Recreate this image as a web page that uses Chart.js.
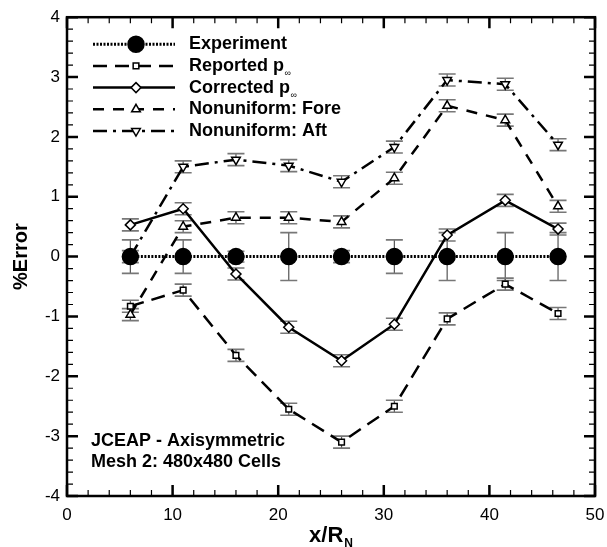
<!DOCTYPE html>
<html>
<head>
<meta charset="utf-8">
<script src="https://cdn.jsdelivr.net/npm/chart.js@4.4.1/dist/chart.umd.min.js"></script>
<style>html,body{margin:0;padding:0;background:#fff}</style>
</head>
<body>
<canvas id="c" width="607" height="547"></canvas>
<script>
const X_POS = [6, 11, 16, 21, 26, 31, 36, 41.5, 46.5];
const EXPERIMENT = [0, 0, 0, 0, 0, 0, 0, 0, 0];
const EXPERIMENT_ERR = [0.28, 0.28, 0.09, 0.4, 0.1, 0.28, 0.4, 0.4, 0.4];
const REPORTED = [-0.83, -0.56, -1.65, -2.55, -3.1, -2.5, -1.04, -0.46, -0.95];
const CORRECTED = [0.53, 0.8, -0.29, -1.18, -1.74, -1.13, 0.36, 0.94, 0.46];
const FORE = [-0.97, 0.5, 0.65, 0.65, 0.58, 1.31, 2.52, 2.28, 0.84];
const AFT = [0.0, 1.5, 1.62, 1.52, 1.25, 1.83, 2.95, 2.88, 1.87];
const MODEL_ERR = [0.1, 0.1, 0.1, 0.1, 0.1, 0.1, 0.1, 0.1, 0.1];
const LEGEND_LABELS = ['Experiment', 'Reported p', 'Corrected p', 'Nonuniform: Fore', 'Nonuniform: Aft'];
const LEGEND_SUBS = ['', '\u221E', '\u221E', '', ''];
const NOTE_LINES = ['JCEAP - Axisymmetric', 'Mesh 2: 480x480 Cells'];

const FONT = "'Liberation Sans', Arial, Helvetica, sans-serif";
Chart.defaults.font.family = FONT;
Chart.defaults.color = '#000';

const pts = ys => X_POS.map((x, i) => ({ x, y: ys[i] }));

const mkSet = (label, ys, err, style, radius, dash, width, fill, rotation) => ({
    label, data: pts(ys), err,
    showLine: true, borderColor: '#000', borderWidth: width, borderDash: dash,
    pointStyle: style, pointRadius: radius, pointRotation: rotation || 0,
    pointBackgroundColor: fill, pointBorderColor: '#000', pointBorderWidth: 1.5
});

const datasets = [
    mkSet('Experiment', EXPERIMENT, EXPERIMENT_ERR, 'circle', 8, [2, 1.5], 3, '#000'),
    mkSet('Reported', REPORTED, MODEL_ERR, 'rect', 4, [14, 8], 2.5, '#fff'),
    mkSet('Corrected', CORRECTED, MODEL_ERR, 'rectRot', 5, [], 2.5, '#fff'),
    mkSet('Fore', FORE, MODEL_ERR, 'triangle', 5, [11, 9], 2.5, '#fff'),
    mkSet('Aft', AFT, MODEL_ERR, 'triangle', 5, [14, 6, 3, 6], 2.5, '#fff', 180)
];

// error bars drawn under the markers
const errorBars = {
    id: 'errorBars',
    beforeDatasetsDraw(chart) {
        const { ctx, scales: { x, y } } = chart;
        ctx.save();
        chart.data.datasets.forEach(ds => {
            ds.data.forEach((p, i) => {
                const e = ds.err[i];
                const px = x.getPixelForValue(p.x);
                const top = y.getPixelForValue(p.y + e), bot = y.getPixelForValue(p.y - e);
                ctx.strokeStyle = '#555'; ctx.lineWidth = 1.2; ctx.setLineDash([]);
                ctx.beginPath(); ctx.moveTo(px, top); ctx.lineTo(px, bot); ctx.stroke();
                ctx.strokeStyle = '#777'; ctx.lineWidth = 1.6;
                ctx.beginPath();
                ctx.moveTo(px - 8.5, top); ctx.lineTo(px + 8.5, top);
                ctx.moveTo(px - 8.5, bot); ctx.lineTo(px + 8.5, bot);
                ctx.stroke();
            });
        });
        ctx.restore();
    }
};

// frame, inward ticks, legend, notes, x title
const decor = {
    id: 'decor',
    afterDraw(chart) {
        const { ctx, chartArea: a, scales: { x, y } } = chart;
        ctx.save();
        ctx.strokeStyle = '#000'; ctx.setLineDash([]);
        // minor / major ticks
        for (let v = 0; v <= 50; v += 2) {
            const px = x.getPixelForValue(v), major = v % 10 === 0, len = major ? 11 : 6;
            ctx.lineWidth = major ? 2.5 : 1.2;
            ctx.beginPath();
            ctx.moveTo(px, a.bottom); ctx.lineTo(px, a.bottom - len);
            ctx.moveTo(px, a.top); ctx.lineTo(px, a.top + len);
            ctx.stroke();
        }
        for (let k = -20; k <= 20; k++) {
            const v = k / 5, py = y.getPixelForValue(v), major = k % 5 === 0, len = major ? 11 : 6;
            ctx.lineWidth = major ? 2.5 : 1.2;
            ctx.beginPath();
            ctx.moveTo(a.left, py); ctx.lineTo(a.left + len, py);
            ctx.moveTo(a.right, py); ctx.lineTo(a.right - len, py);
            ctx.stroke();
        }
        ctx.lineWidth = 2.5;
        ctx.strokeRect(a.left, a.top, a.right - a.left, a.bottom - a.top);

        // legend
        const lx0 = a.left + 26, lx1 = a.left + 108, mx = a.left + 69, tx = a.left + 122;
        chart.data.datasets.forEach((ds, i) => {
            const ly = a.top + 27 + i * 21.7;
            ctx.strokeStyle = '#000'; ctx.lineWidth = ds.borderWidth;
            ctx.setLineDash(ds.borderDash);
            ctx.beginPath(); ctx.moveTo(lx0, ly); ctx.lineTo(lx1, ly); ctx.stroke();
            ctx.setLineDash([]);
            ctx.fillStyle = ds.pointBackgroundColor; ctx.lineWidth = ds.pointBorderWidth;
            Chart.helpers.drawPoint(ctx, { pointStyle: ds.pointStyle, radius: ds.pointRadius, rotation: ds.pointRotation, borderWidth: ds.pointBorderWidth }, mx, ly);
            ctx.fillStyle = '#000';
            ctx.font = 'bold 18px ' + FONT; ctx.textBaseline = 'middle'; ctx.textAlign = 'left';
            ctx.fillText(LEGEND_LABELS[i], tx, ly);
            if (LEGEND_SUBS[i]) {
                const w = ctx.measureText(LEGEND_LABELS[i]).width;
                ctx.font = '9px ' + FONT;
                ctx.fillText(LEGEND_SUBS[i], tx + w + 0.5, ly + 8);
            }
        });

        // note
        ctx.fillStyle = '#000'; ctx.font = 'bold 18px ' + FONT;
        ctx.textBaseline = 'alphabetic'; ctx.textAlign = 'left';
        NOTE_LINES.forEach((t, i) => ctx.fillText(t, a.left + 24, a.bottom - 50 + i * 20.5));

        // x title with subscript
        const cx = (a.left + a.right) / 2;
        ctx.font = 'bold 22px ' + FONT;
        const main = 'x/R', wm = ctx.measureText(main).width;
        ctx.font = 'bold 12px ' + FONT;
        const ws = ctx.measureText('N').width;
        const sx = cx - (wm + ws + 1) / 2;
        ctx.font = 'bold 22px ' + FONT;
        ctx.fillText(main, sx, 542);
        ctx.font = 'bold 12px ' + FONT;
        ctx.fillText('N', sx + wm + 1, 547);
        ctx.restore();
    }
};

new Chart(document.getElementById('c'), {
    type: 'scatter',
    data: { datasets },
    options: {
        responsive: false,
        animation: false,
        layout: { padding: { top: 14, right: 0, left: 0, bottom: 0 } },
        plugins: { legend: { display: false }, tooltip: { enabled: false } },
        scales: {
            x: {
                type: 'linear', min: 0, max: 50,
                grid: { display: false, drawTicks: false }, border: { display: false },
                ticks: { stepSize: 10, padding: 9, font: { size: 17 }, color: '#000', maxRotation: 0 },
                afterFit(s) { s.height = 51; s.paddingRight = 12; }
            },
            y: {
                type: 'linear', min: -4, max: 4,
                grid: { display: false, drawTicks: false }, border: { display: false },
                ticks: { stepSize: 1, padding: 7, font: { size: 17 }, color: '#000' },
                title: { display: true, text: '%Error', font: { size: 20, weight: 'bold' }, color: '#000', padding: { top: 9, bottom: 0 } },
                afterFit(s) { s.width = 67; }
            }
        }
    },
    plugins: [errorBars, decor]
});
</script>
</body>
</html>
